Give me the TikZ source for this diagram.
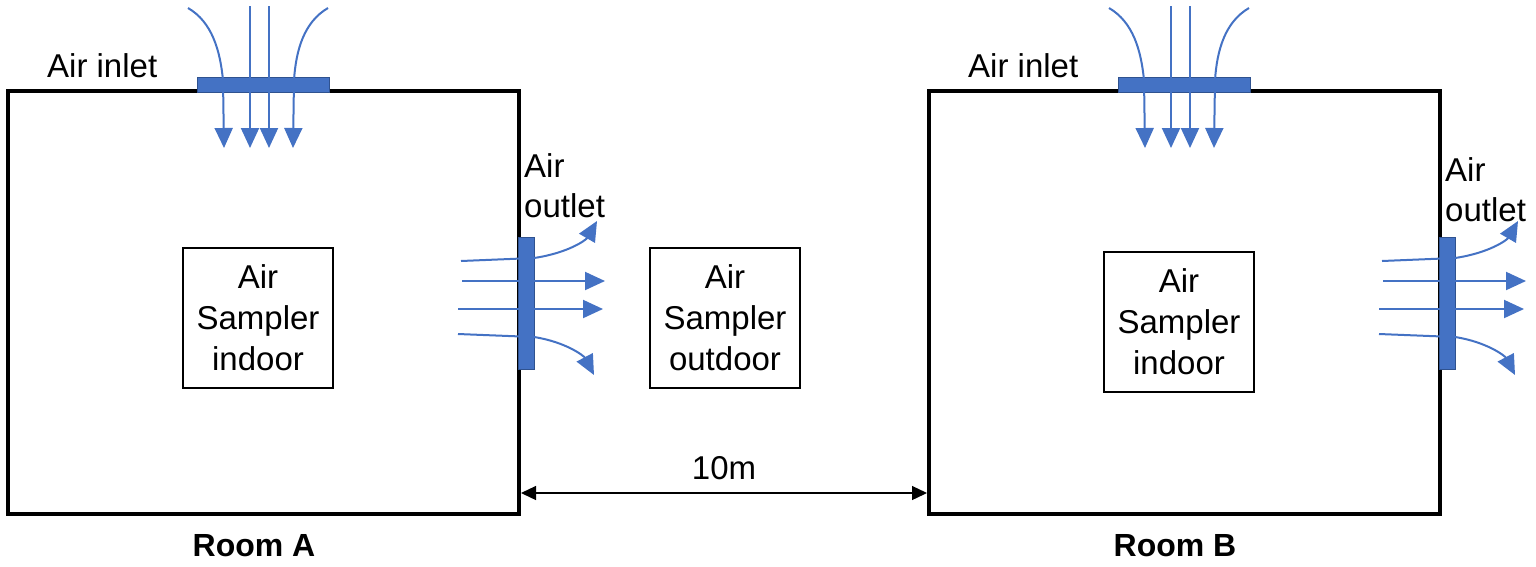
\documentclass[tikz,border=0pt]{standalone}
\usepackage{fontspec}
\setmainfont{Liberation Sans}
\usetikzlibrary{arrows.meta,calc,positioning}
\definecolor{airblue}{HTML}{4472C4}
\definecolor{barline}{HTML}{2F528F}
\tikzset{
  room/.style     = {draw, line width=4pt, inner sep=0pt},
  sampler/.style  = {draw, line width=1.3pt, align=center, inner sep=0pt,
                     font=\fontsize{33}{41}\selectfont,
                     minimum width=150pt, minimum height=140pt},
  vent/.style     = {draw=barline, fill=airblue, line width=1pt, inner sep=0pt},
  flow/.style     = {airblue, line width=2pt, -{Triangle[length=20pt,width=18pt]}},
  txt/.style      = {inner sep=0pt, font=\fontsize{33}{40}\selectfont},
  roomname/.style = {inner sep=0pt, font=\fontsize{32}{38}\selectfont\bfseries},
  dimline/.style  = {{Triangle[length=15pt,width=14pt]}-{Triangle[length=15pt,width=14pt]},
                     line width=1.3pt},
}

\begin{document}
\begin{tikzpicture}[x=1pt,y=-1pt]
  \useasboundingbox (0,0) rectangle (1536,566);

  % the two rooms, B is a copy of A moved to the right
  \foreach \r/\sx/\sy in {A/0/0,B/921/4} {
    \begin{scope}[xshift=\sx pt]
      \node[room, minimum width=511pt, minimum height=423pt] (room\r) at (263.5,302.5) {};
      \node[roomname, anchor=base] (name\r) at (254,556) {Room \r};

      % inlet in the ceiling
      \node[vent, minimum width=132pt, minimum height=15pt] (inlet\r) at (263,85) {};
      \node[txt, anchor=base west] (inlettxt\r) at (47,77) {Air inlet};
      \draw[flow] (188,8) .. controls (212,22) and (220,50) .. (223,80) -- (224,148);
      \draw[flow] (250,6) -- (250,148);
      \draw[flow] (269,6) -- (269,148);
      \draw[flow] (328,8) .. controls (304,22) and (296,50) .. (294,80) -- (293,148);

      % outlet in the right wall
      \node[vent, minimum width=16pt, minimum height=132pt] (outlet\r) at (526,303) {};
      \node[txt, anchor=base west, align=left] (outlettxt\r) at (524,217+\sy) {Air\\outlet};
      \draw[flow] (461,261) -- (534,258) .. controls (568,253) and (586,240) .. (597,221);
      \draw[flow] (462,281) -- (605,281);
      \draw[flow] (458,309) -- (603,309);
      \draw[flow] (458,334) -- (534,337) .. controls (566,342) and (584,356) .. (594,375);

      % sampler
      \node[sampler] (sampler\r) at (258,318+\sy) {Air\\Sampler\\indoor};
    \end{scope}
  }

  % sampler between the rooms
  \node[sampler] (samplerout) at (725,318) {Air\\Sampler\\outdoor};

  % distance
  \draw[dimline] ([yshift=23pt]roomA.south east) -- ([yshift=23pt]roomB.south west)
    node[midway, above=13pt, txt] (dist) {10m};
\end{tikzpicture}
\end{document}
